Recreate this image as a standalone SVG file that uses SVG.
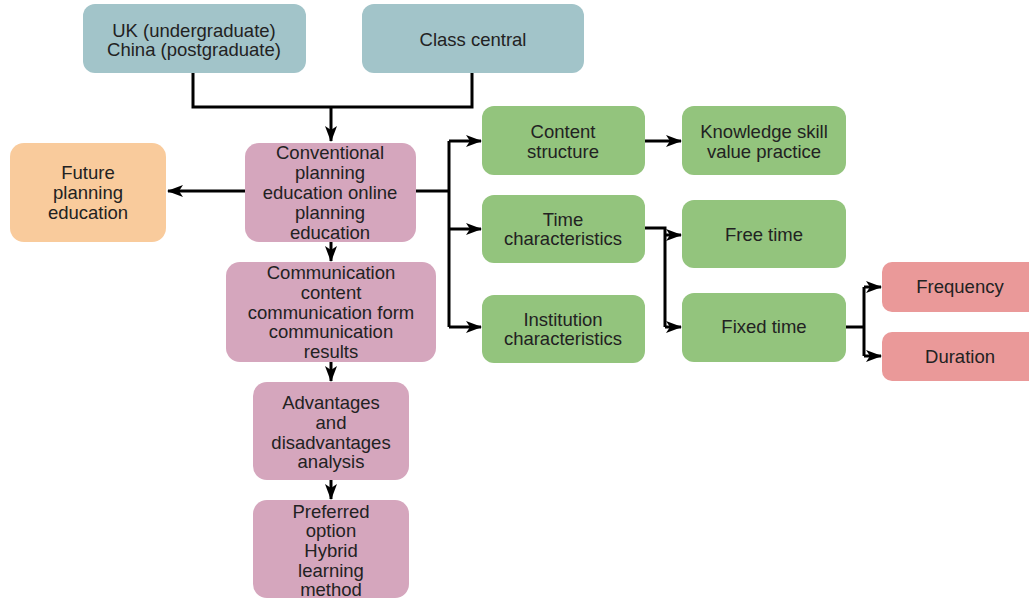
<svg xmlns="http://www.w3.org/2000/svg" width="1029" height="600" viewBox="0 0 1029 600">
<style>
.t{font-family:"Liberation Sans",Arial,sans-serif;font-size:18.5px;fill:#222;text-anchor:middle}
.blue{fill:#a2c4c9}.pink{fill:#d5a6bd}.orange{fill:#f9cb9c}.green{fill:#93c47d}.red{fill:#ea9999}
.c{fill:none;stroke:#000;stroke-width:3}
</style>
<defs>
<marker id="ah" markerWidth="16" markerHeight="12" refX="15" refY="6" orient="auto" markerUnits="userSpaceOnUse">
<path d="M0,0 L16,6 L0,12 L4,6 z" fill="#000"/>
</marker>
</defs>
<rect width="1029" height="600" fill="#fff"/>
<g id="connectors">
<path class="c" d="M193,73 V107 H472 V73"/>
<path class="c" d="M331,107 V141" marker-end="url(#ah)"/>
<path class="c" d="M245,191 H168" marker-end="url(#ah)"/>
<path class="c" d="M331,242 V261" marker-end="url(#ah)"/>
<path class="c" d="M331,362 V381" marker-end="url(#ah)"/>
<path class="c" d="M331,480 V499" marker-end="url(#ah)"/>
<path class="c" d="M416,191 H449"/>
<path class="c" d="M449,141 V327"/>
<path class="c" d="M449,141 H481" marker-end="url(#ah)"/>
<path class="c" d="M449,229 H481" marker-end="url(#ah)"/>
<path class="c" d="M449,327 H481" marker-end="url(#ah)"/>
<path class="c" d="M645,141 H681" marker-end="url(#ah)"/>
<path class="c" d="M645,228 H665 V327"/>
<path class="c" d="M665,235 H681" marker-end="url(#ah)"/>
<path class="c" d="M665,327 H681" marker-end="url(#ah)"/>
<path class="c" d="M846,327 H864"/>
<path class="c" d="M864,287 V356"/>
<path class="c" d="M864,287 H881" marker-end="url(#ah)"/>
<path class="c" d="M864,356 H881" marker-end="url(#ah)"/>
</g>
<g id="uk"><rect class="blue" x="83" y="4" width="223" height="69" rx="12"/><text class="t" x="194" y="37">UK (undergraduate)</text><text class="t" x="194" y="56">China (postgraduate)</text></g>
<g id="class-central"><rect class="blue" x="362" y="4" width="222" height="69" rx="12"/><text class="t" x="473" y="46">Class central</text></g>
<g id="conventional"><rect class="pink" x="245" y="143" width="171" height="99" rx="14"/>
<text class="t" x="330" y="159">Conventional</text><text class="t" x="330" y="179">planning</text><text class="t" x="330" y="199">education online</text><text class="t" x="330" y="219">planning</text><text class="t" x="330" y="239">education</text></g>
<g id="future"><rect class="orange" x="10" y="143" width="156" height="99" rx="14"/>
<text class="t" x="88" y="179">Future</text><text class="t" x="88" y="199">planning</text><text class="t" x="88" y="219">education</text></g>
<g id="communication"><rect class="pink" x="226" y="262" width="210" height="100" rx="14"/>
<text class="t" x="331" y="279">Communication</text><text class="t" x="331" y="299">content</text><text class="t" x="331" y="319">communication form</text><text class="t" x="331" y="338">communication</text><text class="t" x="331" y="358">results</text></g>
<g id="advantages"><rect class="pink" x="253" y="382" width="156" height="98" rx="14"/>
<text class="t" x="331" y="409">Advantages</text><text class="t" x="331" y="429">and</text><text class="t" x="331" y="449">disadvantages</text><text class="t" x="331" y="468">analysis</text></g>
<g id="preferred"><rect class="pink" x="253" y="500" width="156" height="98" rx="14"/>
<text class="t" x="331" y="518">Preferred</text><text class="t" x="331" y="537">option</text><text class="t" x="331" y="557">Hybrid</text><text class="t" x="331" y="577">learning</text><text class="t" x="331" y="596">method</text></g>
<g id="content-structure"><rect class="green" x="482" y="106" width="163" height="69" rx="12"/>
<text class="t" x="563" y="138">Content</text><text class="t" x="563" y="158">structure</text></g>
<g id="time"><rect class="green" x="482" y="195" width="163" height="68" rx="12"/>
<text class="t" x="563" y="226">Time</text><text class="t" x="563" y="245">characteristics</text></g>
<g id="institution"><rect class="green" x="482" y="295" width="163" height="68" rx="12"/>
<text class="t" x="563" y="326">Institution</text><text class="t" x="563" y="345">characteristics</text></g>
<g id="knowledge"><rect class="green" x="682" y="106" width="164" height="69" rx="12"/>
<text class="t" x="764" y="138">Knowledge skill</text><text class="t" x="764" y="158">value practice</text></g>
<g id="free-time"><rect class="green" x="682" y="200" width="164" height="68" rx="12"/>
<text class="t" x="764" y="241">Free time</text></g>
<g id="fixed-time"><rect class="green" x="682" y="293" width="164" height="69" rx="12"/>
<text class="t" x="764" y="333">Fixed time</text></g>
<g id="frequency"><rect class="red" x="882" y="262" width="160" height="50" rx="10"/>
<text class="t" x="960" y="293">Frequency</text></g>
<g id="duration"><rect class="red" x="882" y="332" width="160" height="49" rx="10"/>
<text class="t" x="960" y="363">Duration</text></g>
</svg>
